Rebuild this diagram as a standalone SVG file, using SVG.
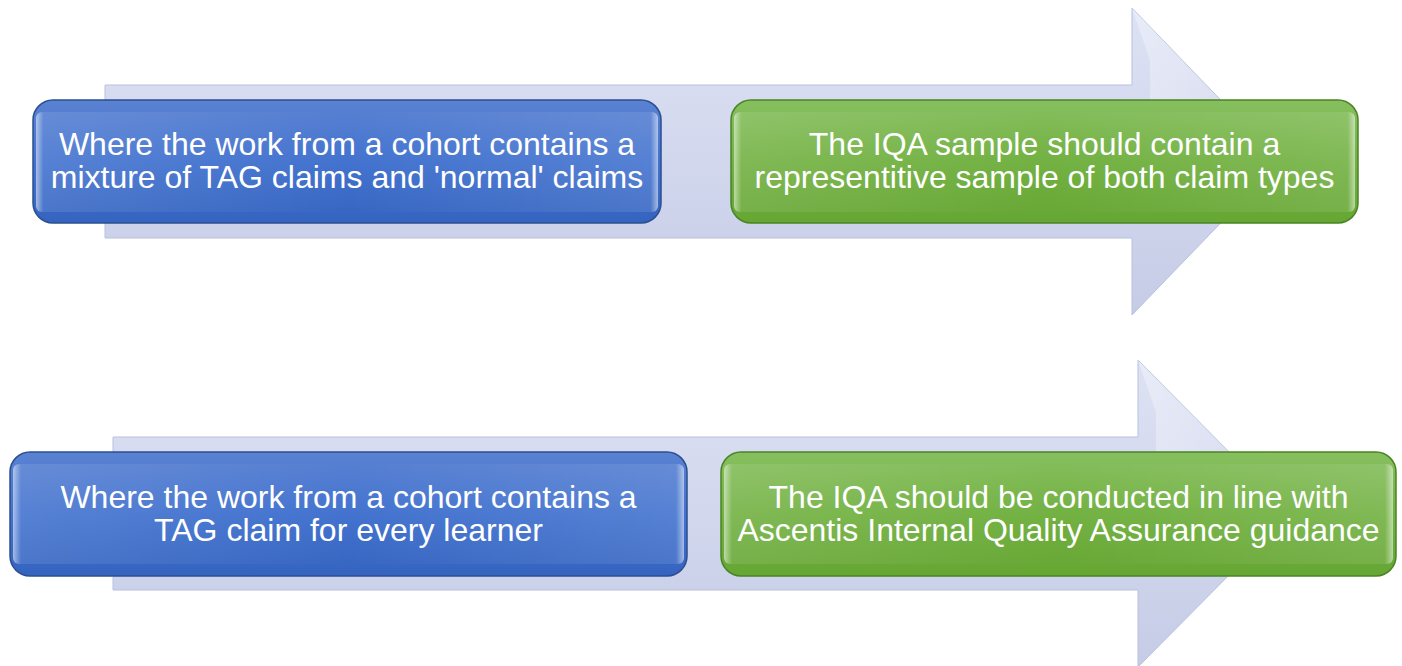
<svg xmlns="http://www.w3.org/2000/svg" width="1402" height="666" viewBox="0 0 1402 666">
<style>
.t{font-family:"Liberation Sans",Arial,sans-serif;font-size:32px;fill:#ffffff;text-anchor:middle}
.arrow{fill:url(#gArrow);stroke:#b9c1dc;stroke-width:1}
.blue{fill:url(#gBlue);stroke:#2c4f8f;stroke-width:1.5}
.green{fill:url(#gGreen);stroke:#4a8424;stroke-width:1.5}
.gloss{fill:url(#gGloss)}
</style>
<defs>
<linearGradient id="gArrow" x1="0" y1="0" x2="0" y2="1">
<stop offset="0" stop-color="#dde2f4"/>
<stop offset="1" stop-color="#c6cce6"/>
</linearGradient>
<linearGradient id="gHead" x1="0" y1="0" x2="1" y2="0">
<stop offset="0" stop-color="#ffffff" stop-opacity="0.35"/>
<stop offset="1" stop-color="#ffffff" stop-opacity="0"/>
</linearGradient>
<linearGradient id="gBlue" x1="0" y1="0" x2="0" y2="1">
<stop offset="0" stop-color="#5a82d2"/>
<stop offset="0.5" stop-color="#4373cf"/>
<stop offset="1" stop-color="#3564c0"/>
</linearGradient>
<linearGradient id="gGreen" x1="0" y1="0" x2="0" y2="1">
<stop offset="0" stop-color="#87bf5f"/>
<stop offset="0.5" stop-color="#72b142"/>
<stop offset="1" stop-color="#66a633"/>
</linearGradient>
<linearGradient id="gGloss" x1="0" y1="0" x2="1" y2="0">
<stop offset="0" stop-color="#ffffff" stop-opacity="0.55"/>
<stop offset="0.012" stop-color="#ffffff" stop-opacity="0.1"/>
<stop offset="0.5" stop-color="#ffffff" stop-opacity="0"/>
<stop offset="0.988" stop-color="#ffffff" stop-opacity="0.1"/>
<stop offset="1" stop-color="#ffffff" stop-opacity="0.55"/>
</linearGradient>
</defs>
<g id="connectors">
<g id="arrow-top">
<path class="arrow" d="M105,85 H1132 V8 L1280,161.5 L1132,315 V238 H105 Z"/>
<path fill="url(#gHead)" d="M1132,8 L1280,161.5 L1150,161.5 L1150,60 Z"/>
</g>
<g id="arrow-bottom">
<path class="arrow" d="M113,437 H1138 V360 L1290,513.5 L1138,667 V590 H113 Z"/>
<path fill="url(#gHead)" d="M1138,360 L1290,513.5 L1156,513.5 L1156,412 Z"/>
</g>
</g>
<g id="node-blue-1">
<rect class="blue" x="33" y="100" width="628" height="123" rx="20"/>
<rect class="gloss" x="36" y="112" width="622" height="100" rx="6"/>
<text class="t" x="347" y="155">Where the work from a cohort contains a</text>
<text class="t" x="347" y="188">mixture of TAG claims and 'normal' claims</text>
</g>
<g id="node-green-1">
<rect class="green" x="731" y="100" width="627" height="123" rx="20"/>
<rect class="gloss" x="734" y="112" width="621" height="100" rx="6"/>
<text class="t" x="1044.5" y="155">The IQA sample should contain a</text>
<text class="t" x="1044.5" y="188">representitive sample of both claim types</text>
</g>
<g id="node-blue-2">
<rect class="blue" x="10" y="452" width="677" height="124" rx="20"/>
<rect class="gloss" x="13" y="464" width="671" height="100" rx="6"/>
<text class="t" x="348.5" y="508">Where the work from a cohort contains a</text>
<text class="t" x="348.5" y="541">TAG claim for every learner</text>
</g>
<g id="node-green-2">
<rect class="green" x="721" y="452" width="675" height="124" rx="20"/>
<rect class="gloss" x="724" y="464" width="669" height="100" rx="6"/>
<text class="t" x="1058.5" y="508">The IQA should be conducted in line with</text>
<text class="t" x="1058.5" y="541">Ascentis Internal Quality Assurance guidance</text>
</g>
</svg>
